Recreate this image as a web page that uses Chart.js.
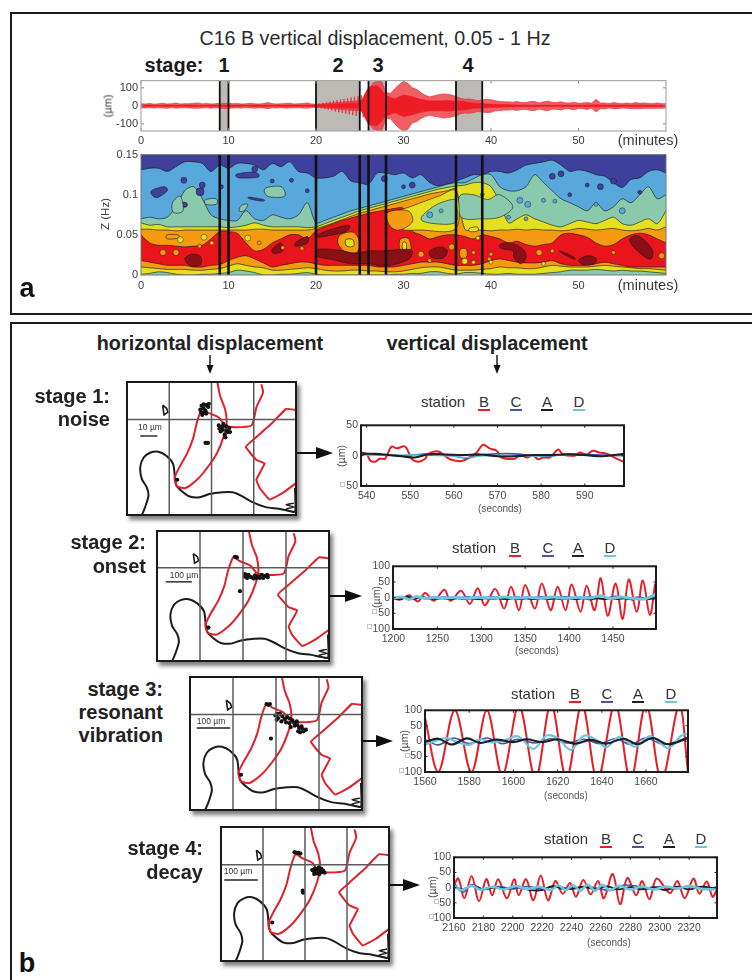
<!DOCTYPE html>
<html><head><meta charset="utf-8">
<script src="https://cdn.jsdelivr.net/npm/chart.js@4/dist/chart.umd.min.js"></script>
<style>
html,body{margin:0;padding:0;background:#fff}
#page{position:relative;width:752px;height:980px;overflow:hidden;background:#fff;filter:blur(.45px);font-family:"Liberation Sans",Arial,sans-serif}
.t{position:absolute;white-space:nowrap;line-height:1;color:#222}
.b{font-weight:700}
.panel{position:absolute;border:2px solid #1c1c1c;box-sizing:border-box}
.mapframe{position:absolute;box-shadow:3px 4px 4px rgba(60,60,60,.65)}
canvas{position:absolute}
svg{position:absolute;left:0;top:0}
</style></head><body><div id="page"></div>
<script>
/* ---------- overview: minutes ---------- */
const minuteTicks=[0,10,20,30,40,50];
const stageSpans=[[9,10],[20,25],[26,28],[36,39]];
const stageEdges=[9,10,20,25,26,28,36,39];
const traceMicronTicks=[100,0,-100];
const traceHigh=[12,10,13,9,11,14,10,12,15,10,12,11,14,16,11,13,10,12,14,13,15,12,13,10,11,14,11,10,13,18,12,10,11,13,14,10,11,13,16,10,8,10,12,14,16,18,20,22,24,26,28,32,90,125,138,135,75,68,95,118,136,125,100,92,72,58,50,56,62,66,64,60,52,42,36,38,34,28,32,36,34,28,24,22,22,20,24,18,18,24,24,16,22,26,18,18,22,16,16,20,14,16,18,14,36,16,16,12,18,14,12,16,12,18,14,16,13,12,16,12,12];
const traceLow=[-11,-12,-10,-13,-10,-12,-14,-10,-13,-11,-10,-12,-13,-14,-12,-10,-13,-11,-12,-16,-14,-12,-11,-13,-10,-12,-13,-11,-12,-16,-11,-12,-10,-13,-12,-11,-10,-12,-14,-10,-8,-10,-12,-14,-16,-18,-20,-22,-24,-26,-28,-32,-92,-128,-138,-140,-70,-72,-100,-125,-140,-130,-95,-88,-70,-60,-52,-58,-62,-68,-66,-62,-56,-44,-40,-42,-38,-32,-34,-38,-36,-28,-26,-24,-24,-22,-26,-20,-20,-26,-26,-18,-24,-28,-18,-20,-24,-16,-18,-22,-14,-16,-20,-14,-34,-16,-18,-12,-16,-16,-12,-14,-16,-16,-16,-14,-14,-14,-14,-14,-12];
const traceCore=[4,4,3,4,3,4,4,3,4,4,4,4,3,4,4,3,4,4,4,4,5,7,9,11,13,16,100,110,60,40,60,50,36,28,28,30,26,22,14,12,10,8,7,5,5,4,4,4,4,4,4,4,6,4,4,4,4,4,4,4,4];
const onsetSpikeMinutes=[20,20.2,20.4,20.6,20.8,21,21.2,21.4,21.6,21.8,22,22.2,22.4,22.6,22.8,23,23.2,23.4,23.6,23.8,24,24.2,24.4,24.6,24.8,25,25.2,25.4,25.6,25.8,26];
const onsetSpikeValues=[8,-10,12,-14,16,-18,20,-22,24,-27,28,-32,32,-36,36,-40,38,-44,42,-48,46,-52,50,-56,54,-62,58,-64,60,-68,70];
/* ---------- contour bands: upper edge of each band, one value per minute ---------- */
const spectrumHzTicks=[0,0.05,0.1,0.15];
const edgeLightBlue=[.131,.133,.133,.129,.135,.141,.141,.139,.129,.137,.133,.139,.139,.137,.131,.139,.135,.141,.129,.127,.121,.121,.123,.129,.117,.115,.113,.127,.127,.125,.127,.121,.125,.115,.111,.113,.117,.121,.125,.125,.129,.129,.127,.131,.137,.139,.141,.143,.137,.129,.131,.129,.125,.123,.115,.109,.119,.121,.129,.131,.127];
const edgeTeal=[.07,.072,.07,.072,.085,.105,.11,.095,.075,.07,.068,.068,.08,.07,.068,.075,.072,.07,.075,.09,.065,.068,.072,.076,.08,.083,.086,.089,.092,.095,.098,.101,.104,.107,.11,.113,.115,.115,.12,.125,.125,.11,.105,.105,.11,.125,.115,.105,.095,.09,.085,.08,.09,.08,.085,.095,.09,.1,.11,.095,.1];
const edgeYellowHigh=[.065,.062,.063,.06,.06,.06,.06,.06,.06,.06,.059,.06,.062,.065,.062,.06,.06,.06,.06,.059,.06,.064,.068,.072,.076,.08,.083,.086,.089,.092,.095,.098,.101,.104,.107,.109,.111,.112,.115,.115,.11,.09,.065,.07,.075,.07,.066,.062,.06,.064,.068,.066,.064,.068,.072,.064,.062,.066,.07,.064,.08];
const edgeOrangeHigh=[.057,.057,.056,.056,.055,.056,.056,.056,.056,.056,.056,.056,.056,.057,.057,.056,.056,.056,.056,.056,.058,.061,.065,.069,.073,.077,.08,.083,.086,.089,.092,.095,.098,.101,.103,.105,.107,.057,.056,.056,.055,.056,.056,.057,.056,.057,.056,.056,.055,.056,.058,.057,.056,.057,.058,.056,.055,.056,.058,.056,.06];
const edgeRed=[.05,.04,.037,.037,.036,.035,.036,.037,.045,.054,.054,.052,.04,.03,.032,.04,.045,.05,.05,.045,.055,.06,.064,.068,.071,.074,.077,.079,.081,.083,.083,.055,.05,.045,.048,.05,.05,.048,.045,.05,.048,.045,.04,.042,.038,.036,.038,.04,.05,.052,.05,.047,.04,.036,.038,.045,.05,.052,.05,.045,.04];
const edgeOrangeLow=[.018,.016,.014,.012,.012,.012,.01,.01,.012,.013,.018,.022,.024,.02,.015,.01,.012,.014,.016,.016,.014,.012,.012,.012,.012,.012,.012,.01,.01,.01,.012,.014,.016,.016,.016,.014,.012,.012,.012,.014,.018,.02,.018,.016,.015,.015,.016,.018,.014,.012,.012,.012,.014,.016,.014,.012,.01,.01,.01,.01,.01];
const edgeYellowLow=[.01,.009,.008,.007,.007,.007,.006,.006,.007,.008,.011,.014,.012,.01,.009,.006,.006,.007,.008,.009,.008,.006,.005,.005,.006,.006,.005,.005,.004,.004,.005,.007,.009,.01,.01,.008,.006,.006,.006,.007,.008,.01,.009,.009,.008,.008,.01,.012,.011,.01,.01,.01,.011,.012,.011,.01,.009,.008,.008,.007,.006];
const edgeTealLow=[.001,.002,.004,.003,.001,0,0,.001,.001,.002,.003,.006,.005,.003,0,0,.001,.001,.002,.003,.001,0,0,0,0,0,0,0,0,.001,.001,.002,.002,.004,.004,.002,.001,.003,.003,.002,.001,.001,.002,.001,.001,.001,.002,.003,.004,.006,.006,.006,.007,.006,.005,.006,.005,.005,.004,.003,.002];
/* closed contour islands as [minute, Hz] */
const islandsTeal=[[[36.4,.098],[38,.1],[39.6,.094],[41,.1],[42.5,.085],[41,.072],[39,.07],[36.6,.072]],[[3.6,.09],[4.5,.098],[4.8,.08],[3.7,.078]]];
const islandsYellowWedge=[[[28.5,.075],[31,.086],[34,.098],[36,.104],[36,.058],[32,.056],[29.5,.058]]];
const islandsTealWedge=[[[32,.07],[33.5,.086],[35.5,.094],[36,.09],[36,.066],[33.5,.064]]];
const islandsOrange=[[[28.2,.078],[30.5,.08],[31,.066],[29.5,.056],[28.4,.062]],[[22.8,.05],[24.3,.053],[25,.04],[24.6,.028],[23.2,.03],[22.5,.04]],[[29.6,.044],[30.6,.045],[30.8,.03],[29.7,.028]],[[3,.05],[4.2,.05],[4.3,.046],[3,.045]],[[36.5,.032],[37.2,.032],[37.2,.022],[36.5,.022]]];
const islandsYellow=[[[23.4,.044],[24.2,.044],[24.3,.036],[23.5,.036]],[[37.5,.058],[38.4,.06],[38.5,.055],[37.6,.054]],[[29.9,.04],[30.3,.04],[30.3,.03],[29.9,.03]]];
const islandsDark=[[[5,.02],[5.8,.026],[6.8,.023],[6.8,.013],[5.7,.011]],[[20.2,.05],[21.5,.056],[23.7,.062],[23.4,.054],[21.5,.049],[20.2,.047]],[[20.2,.032],[22.5,.031],[24.5,.027],[26,.03],[27.5,.03],[30,.032],[31,.03],[30.5,.019],[28,.011],[26,.014],[24,.014],[22,.019],[20.2,.023]],[[33,.03],[34.2,.035],[35,.03],[34.5,.021],[33.2,.022]],[[41,.038],[42.2,.04],[43.6,.033],[44,.022],[43.4,.014],[42.6,.022],[42.5,.03],[41.2,.033]],[[48,.03],[49.5,.022],[49.4,.02],[48,.028]],[[50,.018],[51,.024],[52,.021],[51.8,.014],[50.6,.013]],[[55.9,.046],[57,.048],[58.4,.032],[58.3,.02],[57.4,.024],[56.2,.036]],[[15,.032],[16,.04],[16.2,.03],[15.2,.027]],[[17.6,.04],[19,.048],[19,.04],[17.8,.036]]];
const islandsDeepBlue=[[[1.2,.105],[2.6,.11],[3,.105],[2,.097],[1.4,.098]],[[6.4,.107],[7.1,.108],[7.1,.1],[6.4,.1]],[[11,.126],[13,.128],[13.4,.122],[11.2,.121]],[[12.4,.097],[14,.094],[13.8,.092],[12.4,.095]],[[4.4,.09],[5.2,.09],[5.2,.085],[4.4,.085]]];
const islandsPaleTeal=[[[14.2,.108],[16,.11],[16.4,.098],[14.5,.098]],[[7.4,.094],[8.6,.095],[8.6,.088],[7.4,.088]],[[11.5,.087],[12.2,.088],[11.8,.08],[11.2,.08]]];
const spotsDeep=[[4.9,.118,3],[7,.112,3],[9.2,.11,2],[13,.132,3],[15,.117,2],[17.2,.118,2],[19,.105,2],[27.8,.12,3],[30,.11,2],[31,.112,3],[47,.123,3],[48,.126,3],[51,.112,2],[52.5,.11,3],[54,.117,3],[49,.1,2],[57,.103,2]];
const spotsSky=[[43.3,.093,3],[44.2,.088,3],[46,.093,2],[47.3,.092,2],[33,.075,3],[34.3,.08,2],[42,.072,2],[44,.07,2],[39,.1,2],[55,.08,3],[52,.088,2]];
const spotsOrange=[[2.5,.028,3],[4,.028,3],[6.7,.036,2],[13.5,.04,2],[16.2,.034,2],[18.4,.033,2],[32,.026,3],[33,.018,2],[35.5,.035,3],[38,.028,2],[40,.026,2],[45.5,.028,3],[47,.03,2],[54,.028,2],[59.5,.024,3],[39.8,.02,2]];
const spotsYellow=[[4.5,.044,3],[7.2,.047,3],[8.1,.04,2],[12.2,.046,3],[37,.017,3],[38,.016,2],[40,.016,2],[46,.014,2],[38.5,.046,2]];
/* ---------- maps: units along the frame, y downward ---------- */
const mapGridX=[128,256,384];
const mapGridY=[114];
const crackLoop=[[274,2],[282,42],[297,82],[302,122],[294,162],[272,217],[242,262],[212,297],[177,322],[152,317],[144,292],[157,262],[182,217],[200,172],[212,122],[227,82],[247,94],[277,107],[297,132]];
const crackUpper=[[407,7],[412,32],[392,77],[377,132],[312,137],[302,132]];
const crackRight=[[512,85],[482,82],[442,122],[392,167],[360,197],[392,237],[417,247],[392,297],[402,322],[432,357],[472,337],[512,307]];
const shoreline=[[45,404],[55,380],[65,345],[60,320],[45,295],[40,260],[50,230],[70,215],[95,212],[120,225],[140,250],[145,290],[150,315],[170,335],[190,348],[220,350],[250,340],[290,335],[320,335],[345,345],[380,365],[420,380],[460,385],[490,392],[508,395]];
const shoreHook=[[508,322],[508,395],[482,386],[506,380],[482,373],[506,368]];
const islet=[[108,70],[120,80],[124,92],[112,100],[108,70]];
const tracksStage1=[[225,92],[232,80],[240,70],[246,76],[228,100],[238,88],[234,94],[248,66],[222,84],[226,72],[240,96],[232,68],[290,145],[300,135],[305,152],[284,150],[296,160],[310,140],[292,128],[302,148],[278,132],[280,142],[312,152],[298,168],[288,136],[245,185],[238,185],[152,297]];
const tracksStage2=[[232,80],[238,82],[262,134],[272,136],[282,144],[292,138],[302,142],[312,136],[322,140],[330,144],[268,146],[288,148],[306,146],[262,142],[276,142],[296,146],[316,146],[328,136],[247,187],[153,300]];
const tracksStage3=[[233,85],[228,82],[238,82],[254,117],[262,125],[268,112],[272,135],[282,128],[290,122],[296,140],[305,132],[312,148],[318,135],[325,155],[332,150],[338,165],[328,168],[345,160],[300,152],[258,130],[275,120],[286,138],[298,126],[310,140],[320,146],[335,158],[322,165],[260,112],[241,187],[152,297]];
const tracksStage4=[[224,76],[230,78],[236,78],[242,80],[284,134],[290,128],[296,138],[302,130],[308,136],[292,140],[300,142],[312,132],[286,126],[306,126],[278,130],[316,138],[298,122],[284,142],[250,198],[249,192],[156,288]];
const scaleBar1=[[40,164],[92,164]];
const scaleBar2=[[26,158],[104,158]];
const scaleBar3=[[20,155],[120,155]];
const scaleBar4=[[10,160],[112,160]];
/* ---------- vertical displacement, stations B C A D: [seconds, µm] ---------- */
const secTicks1=[540,550,560,570,580,590];
const secTicks2=[1200,1250,1300,1350,1400,1450];
const secTicks3=[1560,1580,1600,1620,1640,1660];
const secTicks4=[2160,2180,2200,2220,2240,2260,2280,2300,2320];
const microTicks1=[50,0,-50];
const microTicks2=[100,50,0,-50,-100];
const b1=[[538.9,5],[540,3],[540.8,-8],[541.9,-10],[543,-5],[544.2,-5],[545.7,15],[546.9,12],[548.8,15],[550.3,-5],[551.8,-10],[553.4,-5],[554.1,3],[556.4,7],[557.9,0],[559.1,-6],[561.8,-9],[563.7,-2],[565.2,5],[566.7,18],[568.2,12],[569.8,8],[570.9,-3],[574,-5],[575.1,2],[576.6,-3],[578.2,0],[579.3,-6],[580.5,-3],[582,-3],[583.9,10],[585,2],[587.7,0],[588.9,5],[590.4,2],[591.9,8],[593.4,5],[595,3],[596.5,-2],[598.8,-10]];
const c1=[[539,2],[543,1],[548,0],[552,2],[556,3],[560,-1],[563,-4],[566,1],[570,3],[574,3],[578,0],[582,-1],[586,3],[590,2],[594,1],[599,0]];
const a1=[[539,3],[542,3],[545,1],[548,-1],[551,-3],[554,2],[558,2],[562,1],[566,2],[570,-1],[574,-1],[578,1],[582,1],[586,2],[590,1],[594,-1],[599,3]];
const d1=[[539,1],[545,1],[552,1],[560,-1],[563,-3],[570,1],[578,-1],[586,1],[592,0],[599,1]];
const b2=[[1200,-3],[1208,-6],[1218,8],[1228,-12],[1236,15],[1246,-10],[1258,25],[1265,-10],[1277,22],[1287,-20],[1296,30],[1304,-25],[1316,28],[1326,-35],[1334,35],[1343,-40],[1350,40],[1361,-35],[1369,45],[1379,-40],[1387,35],[1396,-40],[1403,42],[1413,-45],[1420,38],[1429,-40],[1436,62],[1444,-58],[1453,45],[1461,-68],[1468,58],[1477,-45],[1484,55],[1492,-55],[1498,45]];
const c2=[[1200,-2],[1212,3],[1222,-4],[1232,2],[1244,-3],[1258,2],[1270,-2],[1284,3],[1298,-2],[1312,3],[1326,-3],[1340,2],[1354,-3],[1368,3],[1382,-3],[1396,3],[1410,-4],[1424,3],[1438,-4],[1452,4],[1466,-3],[1480,2],[1490,-4],[1499,8]];
const a2=[[1200,-2],[1208,-5],[1216,3],[1224,-4],[1232,2],[1240,-3],[1248,-4],[1256,-2],[1264,-5],[1272,-2],[1280,-4],[1288,-3],[1296,-5],[1304,-2],[1312,-4],[1320,-2],[1328,-5],[1336,-2],[1344,-5],[1352,-2],[1360,-5],[1368,-2],[1376,-5],[1384,-2],[1392,-5],[1400,-2],[1408,-5],[1416,-2],[1424,-6],[1432,-2],[1440,-5],[1448,-2],[1456,-5],[1464,-2],[1472,-6],[1480,-2],[1488,-5],[1499,-2]];
const d2=[[1200,-1],[1210,2],[1218,-6],[1226,4],[1236,-3],[1246,1],[1258,-2],[1270,1],[1284,-2],[1298,1],[1312,-1],[1326,2],[1340,-1],[1354,1],[1368,-2],[1382,2],[1396,-2],[1410,1],[1424,-1],[1436,6],[1446,-3],[1460,2],[1472,-2],[1486,-4],[1499,10]];
const b3=[[1560,75],[1566,-100],[1573.5,100],[1581,-100],[1588,100],[1595,-110],[1602.5,115],[1610,-120],[1617,120],[1624,-120],[1631,120],[1638,-125],[1646,120],[1653,-125],[1660,120],[1667,-125],[1675,115],[1679,-100]];
const c3=[[1560,5],[1566,-12],[1573,10],[1580,-8],[1588,10],[1595,-8],[1602,6],[1610,-6],[1617,8],[1624,-6],[1632,6],[1639,-8],[1646,8],[1653,-10],[1660,10],[1668,-10],[1679,12]];
const a3=[[1560,-3],[1566,8],[1572,-11],[1579,9],[1585,-6],[1592,5],[1600,-3],[1606,6],[1613,-3],[1620,6],[1628,-8],[1635,4],[1642,-8],[1650,8],[1656,-10],[1663,10],[1670,-10],[1679,10]];
const d3=[[1560,-12],[1566,4],[1570,10],[1575,-4],[1580,-12],[1585,6],[1590,-4],[1596,3],[1602,16],[1609,-25],[1615,18],[1620,10],[1626,-28],[1632,18],[1638,2],[1642,-20],[1648,14],[1655,-18],[1662,16],[1670,-22],[1676,18],[1679,24]];
const b4=[[2160,10],[2163,30],[2167,-35],[2172,38],[2177,-45],[2182,28],[2186,-25],[2190,28],[2196,-35],[2201,28],[2204,-25],[2209,28],[2214,-42],[2219,40],[2224,-42],[2229,22],[2234,-20],[2239,15],[2243,-30],[2248,25],[2253,-22],[2258,22],[2262,-35],[2268,45],[2273,-55],[2278,32],[2284,-25],[2288,22],[2293,-38],[2298,30],[2307,-18],[2312,22],[2317,-35],[2323,30],[2327,-20],[2332,20],[2336,-30],[2339,-5]];
const c4=[[2160,15],[2166,-15],[2172,10],[2180,-5],[2190,4],[2200,-4],[2210,4],[2220,-4],[2230,5],[2240,-5],[2250,4],[2260,-5],[2268,-8],[2275,8],[2283,6],[2292,-5],[2300,4],[2310,-4],[2320,5],[2330,-3],[2339,2]];
const a4=[[2160,2],[2166,-5],[2172,6],[2180,-6],[2188,1],[2196,-4],[2204,2],[2212,-8],[2220,-8],[2227,5],[2234,-4],[2241,-3],[2248,3],[2256,-5],[2264,4],[2272,-6],[2280,2],[2288,-6],[2296,2],[2304,-8],[2312,3],[2320,-6],[2328,3],[2339,-4]];
const d4=[[2160,6],[2165,-8],[2172,6],[2178,-7],[2186,3],[2194,-6],[2202,5],[2210,-4],[2218,3],[2226,-8],[2231,8],[2236,-8],[2241,8],[2246,-10],[2251,10],[2256,-10],[2261,9],[2266,-9],[2272,6],[2280,-6],[2288,4],[2296,-6],[2304,4],[2312,-3],[2320,5],[2328,-4],[2339,-6]];

/* ---------- helpers ---------- */
const RED='#e61e28',BLUE='#4d50ad',BLK='#1e1e1e',CYAN='#6cc6dc';
const page=document.getElementById('page');
const tickFont={family:'"Liberation Sans"',size:11};
const smallFont={family:'"Liberation Sans"',size:10.5};
function text(s,x,y,o={}){const d=document.createElement('div');d.className='t'+(o.bold?' b':'');d.textContent=s;
 d.style.fontSize=(o.size||12)+'px';d.style.color=o.color||'#222';if(o.family)d.style.fontFamily=o.family;
 let tr='translate('+(o.align==='right'?'-100%':o.align==='left'?'0':'-50%')+',-50%)';
 if(o.rot)tr+=' rotate('+o.rot+'deg)'; if(o.sx)tr+=' scaleX('+o.sx+')';
 d.style.left=x+'px';d.style.top=y+'px';d.style.transform=tr;page.appendChild(d);return d;}
function panel(x,y,w,h){const d=document.createElement('div');d.className='panel';d.style.cssText+=`left:${x}px;top:${y}px;width:${w}px;height:${h}px`;page.appendChild(d);}
const xy=a=>a.map(p=>({x:p[0],y:p[1]}));
const frameBits={id:'frameBits',
 beforeDatasetsDraw(ch,_,o){const {ctx,chartArea:a,scales:s}=ch;ctx.save();
  if(o.bg){ctx.fillStyle=o.bg;ctx.fillRect(a.left,a.top,a.width,a.height);}
  (o.spans||[]).forEach(p=>{ctx.fillStyle='#bdbab6';const l=s.x.getPixelForValue(p[0]),r=s.x.getPixelForValue(p[1]);ctx.fillRect(l,a.top,r-l,a.height);});
  ctx.restore();},
 beforeDatasetDraw(ch,{index},o){ if(ch.data.datasets[index].label!=='spotsDeep'||!o.islands)return;
  const {ctx,chartArea:a,scales:s}=ch;ctx.save();ctx.beginPath();ctx.rect(a.left,a.top,a.width,a.height);ctx.clip();
  o.islands.forEach(g=>g.polys.forEach(pts=>{const P=pts.map(p=>[s.x.getPixelForValue(p[0]),s.y.getPixelForValue(p[1])]);
    const n=P.length;ctx.beginPath();ctx.moveTo(P[0][0],P[0][1]);
    for(let i=0;i<n;i++){const p0=P[(i-1+n)%n],p1=P[i],p2=P[(i+1)%n],p3=P[(i+2)%n];
      ctx.bezierCurveTo(p1[0]+(p2[0]-p0[0])/6,p1[1]+(p2[1]-p0[1])/6,p2[0]-(p3[0]-p1[0])/6,p2[1]-(p3[1]-p1[1])/6,p2[0],p2[1]);}
    ctx.closePath();ctx.fillStyle=g.color;ctx.fill();ctx.strokeStyle='rgba(25,25,25,.75)';ctx.lineWidth=.8;ctx.stroke();}));
  ctx.restore();},
 afterDatasetsDraw(ch,_,o){const {ctx,chartArea:a,scales:s}=ch;ctx.save();
  (o.marks||[]).forEach(v=>{const x=s.x.getPixelForValue(v);ctx.strokeStyle='#111';ctx.lineWidth=o.markWidth||2;ctx.beginPath();ctx.moveTo(x,a.top);ctx.lineTo(x,a.bottom);ctx.stroke();});
  if(o.gridColor){ctx.strokeStyle=o.gridColor;ctx.lineWidth=1.5;
   s.x.ticks.forEach(t=>{const x=s.x.getPixelForValue(t.value);ctx.beginPath();ctx.moveTo(x,a.top);ctx.lineTo(x,a.bottom);ctx.stroke();});
   s.y.ticks.forEach(t=>{const y=s.y.getPixelForValue(t.value);ctx.beginPath();ctx.moveTo(a.left,y);ctx.lineTo(a.right,y);ctx.stroke();});}
  if(o.tick){ctx.strokeStyle=o.tickColor||'#222';ctx.lineWidth=1;
   s.x.ticks.forEach(t=>{const x=s.x.getPixelForValue(t.value);ctx.beginPath();ctx.moveTo(x,a.bottom);ctx.lineTo(x,a.bottom-o.tick);ctx.moveTo(x,a.top);ctx.lineTo(x,a.top+o.tick);ctx.stroke();});
   s.y.ticks.forEach(t=>{const y=s.y.getPixelForValue(t.value);ctx.beginPath();ctx.moveTo(a.left,y);ctx.lineTo(a.left+o.tick,y);ctx.moveTo(a.right,y);ctx.lineTo(a.right-o.tick,y);ctx.stroke();});}
  ctx.strokeStyle=o.frame||'#111';ctx.lineWidth=o.frameWidth||2;ctx.strokeRect(a.left,a.top,a.width,a.height);
  ctx.restore();}};
Chart.register(frameBits);
function mount(box,gut,datasets,sc,frame){
 const c=document.createElement('canvas');c.width=box.w+gut.l+gut.r;c.height=box.h+gut.t+gut.b;
 c.style.left=(box.x-gut.l)+'px';c.style.top=(box.y-gut.t)+'px';page.appendChild(c);
 const axis=(k,o)=>({type:'linear',min:o.min,max:o.max,reverse:!!o.reverse,
   grid:{display:false,drawTicks:false},border:{display:false},
   afterBuildTicks:s=>{s.ticks=o.ticks.map(v=>({value:v}));},
   afterFit:s=>{if(k==='x')s.height=gut.b;else s.width=gut.l;},
   ticks:{display:!o.hide,autoSkip:false,maxRotation:0,minRotation:0,padding:o.pad==null?3:o.pad,color:o.color||'#3a3a3a',font:o.font||tickFont,
     callback:o.label||(v=>String(v))}});
 return new Chart(c,{type:'line',data:{datasets},options:{responsive:false,animation:false,events:[],
   layout:{padding:{top:gut.t,right:gut.r,left:0,bottom:0}},
   scales:{x:axis('x',sc.x),y:axis('y',sc.y)},
   plugins:{legend:{display:false},tooltip:{enabled:false},title:{display:false},frameBits:frame},
   elements:{point:{radius:0}}}});
}
const line=(a,color,w,extra={})=>Object.assign({data:xy(a),borderColor:color,borderWidth:w,pointRadius:0,fill:false,tension:0},extra);

/* ---------- panels: their right edges run off the picture ---------- */
panel(10,12,770,303);
panel(10,322,770,700);
text('C16 B vertical displacement, 0.05 - 1 Hz',375,38,{size:20.5,sx:.96,color:'#2a2a2a'});
text('stage:',174,65,{size:20,bold:1,sx:1,color:'#1a1a1a'});
[['1',224],['2',338],['3',378],['4',468]].forEach(p=>text(p[0],p[1],65,{size:20,bold:1,color:'#1a1a1a'}));

/* trace */
const halfMinutes=traceHigh.map((_,i)=>i/2);
const wholeMinutes=traceCore.map((_,i)=>i);
mount({x:141,y:79,w:525,h:52},{l:32,r:12,t:8,b:22},[
 {data:wholeMinutes.map((m,i)=>({x:m,y:traceCore[i]})),borderColor:'#ee1c25',borderWidth:.5,pointRadius:0,fill:{target:'+1'},backgroundColor:'#ee1c25',tension:.2},
 {data:wholeMinutes.map((m,i)=>({x:m,y:-traceCore[i]})),borderColor:'#ee1c25',borderWidth:.5,pointRadius:0,fill:false,tension:.2},
 {data:onsetSpikeMinutes.map((m,i)=>({x:m,y:onsetSpikeValues[i]})),borderColor:'rgba(232,40,48,.85)',borderWidth:.9,pointRadius:0,fill:false,tension:0},
 {data:halfMinutes.map((m,i)=>({x:m,y:traceHigh[i]})),borderColor:'rgba(235,40,48,.9)',borderWidth:.7,pointRadius:0,fill:{target:'+1'},backgroundColor:'rgba(236,60,66,.82)',tension:0},
 {data:halfMinutes.map((m,i)=>({x:m,y:traceLow[i]})),borderColor:'rgba(235,40,48,.9)',borderWidth:.7,pointRadius:0,fill:false,tension:0}
],{x:{min:0,max:60,ticks:minuteTicks,pad:3},y:{min:-140,max:140,ticks:traceMicronTicks}},
 {spans:stageSpans,marks:stageEdges,markWidth:1.8,frame:'#a9a9a9',frameWidth:1.2,tick:3,tickColor:'#888'});
text('(\u00b5m)',108,106,{size:11,rot:-90,color:'#3a3a3a'});
text('(minutes)',648,140,{size:14.5,color:'#3a3a3a'});

/* contour */
const edge=a=>a.map((y,i)=>({x:i,y}));
const band=(a,color,order)=>({data:edge(a),backgroundColor:color,borderColor:'rgba(25,25,25,.8)',borderWidth:.8,pointRadius:0,tension:.3,fill:'origin',order});
const spot=(a,color,order,label)=>({type:'bubble',label,data:a.map(p=>({x:p[0],y:p[1],r:p[2]})),backgroundColor:color,borderColor:'rgba(25,25,25,.75)',borderWidth:.6,order});
mount({x:141,y:153,w:525,h:122},{l:36,r:12,t:8,b:22},[
 spot(spotsYellow,'#e4e020',1,'spotsYellow'),
 spot(spotsOrange,'#f59b12',2,'spotsOrange'),
 spot(spotsSky,'#58a8dc',3,'spotsSky'),
 spot(spotsDeep,'#3f3f9c',4,'spotsDeep'),
 band(edgeTealLow,'#8ac9ab',10),
 band(edgeYellowLow,'#e4e020',11),
 band(edgeOrangeLow,'#f59b12',12),
 band(edgeRed,'#e9141c',13),
 band(edgeOrangeHigh,'#f59b12',14),
 band(edgeYellowHigh,'#e4e020',15),
 band(edgeTeal,'#8ac9ab',16),
 band(edgeLightBlue,'#58a8dc',17)
],{x:{min:0,max:60,ticks:minuteTicks,pad:4},y:{min:0,max:.15,ticks:spectrumHzTicks,pad:3}},
 {bg:'#3f3f9c',marks:stageEdges,markWidth:2.6,frame:'#777',frameWidth:1,
  islands:[{polys:islandsDeepBlue,color:'#3f3f9c'},{polys:islandsPaleTeal,color:'#8ac9ab'},{polys:islandsTeal,color:'#8ac9ab'},{polys:islandsYellowWedge,color:'#e4e020'},{polys:islandsTealWedge,color:'#8ac9ab'},{polys:islandsOrange,color:'#f59b12'},{polys:islandsYellow,color:'#e4e020'},{polys:islandsDark,color:'#8b0f14'}]});
text('Z  (Hz)',106,214,{size:11.5,rot:-90,color:'#3a3a3a'});
text('(minutes)',648,285,{size:14.5,color:'#3a3a3a'});
text('a',27,288,{size:27,bold:1,color:'#111'});
text('b',27,963,{size:27,bold:1,color:'#111'});
text('horizontal displacement',210,344,{size:19.8,bold:1,sx:1});
text('vertical displacement',487,344,{size:19.8,bold:1,sx:1});

/* maps */
function map(box,tracks,bar){
 const sh=document.createElement('div');sh.className='mapframe';sh.style.cssText+=`left:${box.x}px;top:${box.y}px;width:${box.w}px;height:${box.h}px`;page.appendChild(sh);
 mount(box,{l:3,r:3,t:3,b:3},[
  {data:xy(tracks),showLine:false,pointRadius:2.1,pointBackgroundColor:'#111',pointBorderWidth:0,order:1},
  line(crackLoop,'#e0202a',2,{order:2,tension:.2}),
  line(crackUpper,'#e0202a',2,{order:2,tension:.2}),
  line(crackRight,'#e0202a',2,{order:2,tension:.1}),
  line(shoreline,'#1c1c1c',2,{order:3,tension:.25}),
  line(shoreHook,'#1c1c1c',1.4,{order:3,tension:.2}),
  line(islet,'#1c1c1c',1.6,{order:3}),
  line(bar,'#222',1.4,{order:3})
 ],{x:{min:0,max:512,ticks:mapGridX,hide:true},y:{min:0,max:404,reverse:true,ticks:mapGridY,hide:true}},
 {gridColor:'#5a5a5a',frame:'#1a1a1a',frameWidth:2});
}
map({x:126,y:381,w:171,h:135},tracksStage1,scaleBar1);
map({x:156,y:530,w:174,h:132},tracksStage2,scaleBar2);
map({x:189,y:676,w:174,h:135},tracksStage3,scaleBar3);
map({x:220,y:826,w:170,h:136},tracksStage4,scaleBar4);
text('10 \u00b5m',150,427,{size:8.5,color:'#333'});
text('100 \u00b5m',184,575,{size:8.5,color:'#333'});
text('100 \u00b5m',211,721,{size:8.5,color:'#333'});
text('100 \u00b5m',238,871,{size:8.5,color:'#333'});
text('stage 1:',110,396,{size:20,bold:1,align:'right'});
text('noise',110,419,{size:20,bold:1,align:'right'});
text('stage 2:',146,542,{size:20,bold:1,align:'right'});
text('onset',146,566,{size:20,bold:1,align:'right'});
text('stage 3:',163,689,{size:20,bold:1,align:'right'});
text('resonant',163,712,{size:20,bold:1,align:'right'});
text('vibration',163,735,{size:20,bold:1,align:'right'});
text('stage 4:',203,848,{size:20,bold:1,align:'right'});
text('decay',203,872,{size:20,bold:1,align:'right'});

/* time series */
function series(box,xr,xt,yr,yt,sets){
 mount(box,{l:34,r:12,t:8,b:22},[
  line(sets[0],RED,2,{order:4,tension:.35}),
  line(sets[1],BLUE,1.6,{order:3,tension:.35}),
  line(sets[2],BLK,sets[4]?2.1:1.8,{order:sets[4]?1:2,tension:.35}),
  line(sets[3],CYAN,sets[5]||2,{order:sets[4]?2:1,tension:.35})
 ],{x:{min:xr[0],max:xr[1],ticks:xt,pad:4,color:'#4a4a4a',font:smallFont},
    y:{min:yr[0],max:yr[1],ticks:yt,pad:3,color:'#4a4a4a',font:smallFont,label:v=>String(Math.abs(v))}},
 {frame:'#1c1c1c',frameWidth:2,tick:2.5,tickColor:'#222'});
}
series({x:361,y:424,w:263,h:62},[538.7,599],secTicks1,[-50,50],microTicks1,[b1,c1,a1,d1,true,1.2]);
series({x:393,y:565,w:263,h:64},[1199.5,1499],secTicks2,[-100,100],microTicks2,[b2,c2,a2,d2,false,3]);
series({x:425,y:709,w:263,h:63},[1560,1679],secTicks3,[-100,100],microTicks2,[b3,c3,a3,d3,true,2.2]);
series({x:454,y:856,w:263,h:62},[2160,2339],secTicks4,[-100,100],microTicks2,[b4,c4,a4,d4,false,2.6]);
text('(\u00b5m)',341,456,{size:10.5,rot:-90,color:'#444'});
text('(\u00b5m)',376,597,{size:10.5,rot:-90,color:'#444'});
text('(\u00b5m)',404,741,{size:10.5,rot:-90,color:'#444'});
text('(\u00b5m)',432,887,{size:10.5,rot:-90,color:'#444'});
text('(seconds)',500,509,{size:10,color:'#555'});
text('(seconds)',537,651,{size:10,color:'#555'});
text('(seconds)',566,796,{size:10,color:'#555'});
text('(seconds)',609,943,{size:10,color:'#555'});
[[343,485],[375,612],[370,627],[408,756],[402,771],[437,902],[432,917]].forEach(p=>{const d=document.createElement('div');d.style.cssText=`position:absolute;left:${p[0]-3}px;top:${p[1]-3}px;width:5px;height:5px;border:1px solid #c8c8c8;box-sizing:border-box`;page.appendChild(d);});

/* station keys */
function key(sx,y,xs){text('station',sx,y,{size:15,color:'#333'});
 ['B','C','A','D'].forEach((s,i)=>{text(s,xs[i],y,{size:15,color:'#333'});
  const u=document.createElement('div');u.style.cssText=`position:absolute;left:${xs[i]-6}px;top:${y+8}px;width:12px;height:2px;background:${[RED,BLUE,BLK,CYAN][i]}`;page.appendChild(u);});}
key(443,401,[484,516,547,579]);
key(474,547,[515,548,578,610]);
key(533,693,[575,607,638,671]);
key(566,838,[606,638,669,701]);

/* arrows */
const svgNS='http://www.w3.org/2000/svg';const sv=document.createElementNS(svgNS,'svg');sv.setAttribute('width',752);sv.setAttribute('height',980);
function arrow(x1,y1,x2,y2,h,w,sw){const l=document.createElementNS(svgNS,'path');
 const horiz=y1===y2;const d=horiz?`M${x1} ${y1}H${x2-h}`:`M${x1} ${y1}V${y2-h}`;
 l.setAttribute('d',d);l.setAttribute('stroke','#111');l.setAttribute('stroke-width',sw);l.setAttribute('fill','none');sv.appendChild(l);
 const p=document.createElementNS(svgNS,'path');
 p.setAttribute('d',horiz?`M${x2} ${y2}L${x2-h} ${y2-w}L${x2-h} ${y2+w}Z`:`M${x2} ${y2}L${x2-w} ${y2-h}L${x2+w} ${y2-h}Z`);p.setAttribute('fill','#111');sv.appendChild(p);}
arrow(210,355,210,374,9,3.5,1.4);arrow(497,355,497,374,9,3.5,1.4);
arrow(297,453,333,453,17,6,2);arrow(330,596,362,596,17,6,2);arrow(363,741,393,741,17,6,2);arrow(390,885,420,885,17,6,2);
page.appendChild(sv);
</script></body></html>
